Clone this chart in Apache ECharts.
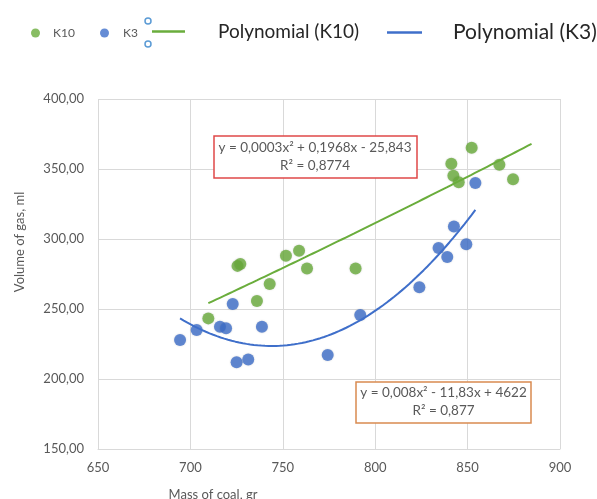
<!DOCTYPE html>
<html>
<head>
<meta charset="utf-8">
<script src="https://cdn.jsdelivr.net/npm/echarts@6/dist/echarts.min.js"></script>
<style>html,body{margin:0;padding:0;background:#fff;}#c{width:597px;height:499px;}</style>
</head>
<body>
<div id="c"></div>
<script>
// ---- data ----
const k10X = [709.7, 725.5, 727.0, 736.0, 742.9, 751.7, 758.8, 763.1, 789.4, 841.2, 842.3, 845.2, 852.2, 867.2, 874.6];
const k10Y = [243.3, 280.8, 282.2, 255.7, 267.9, 288.1, 291.6, 279.0, 279.0, 353.8, 345.2, 340.5, 365.2, 353.1, 342.6];
const k3X = [694.4, 703.4, 716.0, 719.3, 722.9, 725.0, 731.3, 738.7, 774.3, 791.9, 823.9, 834.3, 839.0, 842.6, 849.3, 854.2];
const k3Y = [227.9, 235.0, 237.4, 236.2, 253.6, 211.9, 214.0, 237.4, 217.1, 245.7, 265.5, 293.6, 287.1, 309.0, 296.2, 340.0];
const seriesNames = ['K10', 'K3', 'Polynomial (K10)', 'Polynomial (K3)'];
const eqK10 = ['y = 0,0003x² + 0,1968x - 25,843', 'R² = 0,8774'];
const eqK3 = ['y = 0,008x² - 11,83x + 4622', 'R² = 0,877'];
const xTitle = 'Mass of coal, gr';
const yTitle = 'Volume of gas, ml';
const k10Forward = 10; // trendline forecast forward (periods)

// quadratic least-squares fit (trendline, as in the source spreadsheet)
function polyfit2(xs, ys) {
  const n = xs.length;
  const m = xs.reduce((a, b) => a + b, 0) / n;
  let s = [0,0,0,0,0], t = [0,0,0];
  for (let i = 0; i < n; i++) {
    const u = xs[i] - m;
    let p = 1;
    for (let k = 0; k <= 4; k++) { s[k] += p; if (k <= 2) t[k] += p * ys[i]; p *= u; }
  }
  const A = [[s[0], s[1], s[2], t[0]], [s[1], s[2], s[3], t[1]], [s[2], s[3], s[4], t[2]]];
  for (let i = 0; i < 3; i++) {
    for (let j = i + 1; j < 3; j++) {
      const f = A[j][i] / A[i][i];
      for (let k = i; k < 4; k++) A[j][k] -= f * A[i][k];
    }
  }
  const c = [0,0,0];
  for (let i = 2; i >= 0; i--) {
    let v = A[i][3];
    for (let k = i + 1; k < 3; k++) v -= A[i][k] * c[k];
    c[i] = v / A[i][i];
  }
  return x => c[0] + c[1] * (x - m) + c[2] * (x - m) * (x - m);
}
function trend(xs, ys, forward) {
  const f = polyfit2(xs, ys);
  const lo = Math.min(...xs), hi = Math.max(...xs) + (forward || 0);
  const out = [];
  const N = 80;
  for (let i = 0; i <= N; i++) { const x = lo + (hi - lo) * i / N; out.push([x, f(x)]); }
  return out;
}

const GREEN = '#6aad3c', BLUE = '#3f6fca';
const FONT = 'Lato, "Open Sans", sans-serif';
const chart = echarts.init(document.getElementById('c'));
const fmtY = v => v.toFixed(2).replace('.', ',');

function legendItem(name, left, top, icon, w, h, color, fontSize, padL, textColor) {
  return {
    left: left, top: top, orient: 'horizontal', selectedMode: false,
    icon: icon, itemWidth: w, itemHeight: h,
    data: [{ name: name, itemStyle: { color: color } }],
    textStyle: { fontFamily: FONT, fontSize: fontSize, color: textColor, padding: [0, 0, 0, padL] }
  };
}

chart.setOption({
  animation: false,
  backgroundColor: '#ffffff',
  textStyle: { fontFamily: FONT },
  legend: [
    legendItem(seriesNames[0], 26, 22, 'circle', 9, 9, GREEN, 12, 8, '#595959'),
    legendItem(seriesNames[1], 95, 22, 'circle', 9, 9, BLUE, 12, 9, '#595959'),
    legendItem(seriesNames[2], 147, 17, 'rect', 33, 2.5, GREEN, 19, 28, '#262626'),
    legendItem(seriesNames[3], 382, 17, 'rect', 35, 2.5, BLUE, 21, 26, '#262626')
  ],
  grid: { left: 98, right: 37, top: 99, bottom: 50, containLabel: false },
  xAxis: {
    type: 'value', min: 650, max: 900, interval: 50,
    axisLine: { show: true, lineStyle: { color: '#d9d9d9' } },
    axisTick: { show: false },
    splitLine: { show: true, lineStyle: { color: '#d9d9d9' } },
    axisLabel: { color: '#595959', fontSize: 13, margin: 12, fontFamily: FONT }
  },
  yAxis: {
    type: 'value', min: 150, max: 400, interval: 50,
    axisLine: { show: false },
    axisTick: { show: false },
    splitLine: { show: true, lineStyle: { color: '#d9d9d9' } },
    axisLabel: { color: '#595959', fontSize: 13, margin: 14, fontFamily: FONT, formatter: fmtY }
  },
  series: [
    { name: seriesNames[0], type: 'scatter', symbolSize: 12, z: 3,
      itemStyle: { color: GREEN, shadowBlur: 2, shadowColor: 'rgba(0,0,0,0.2)' },
      data: k10X.map((x, i) => [x, k10Y[i]]) },
    { name: seriesNames[1], type: 'scatter', symbolSize: 12, z: 3,
      itemStyle: { color: BLUE, shadowBlur: 2, shadowColor: 'rgba(0,0,0,0.2)' },
      data: k3X.map((x, i) => [x, k3Y[i]]) },
    { name: seriesNames[2], type: 'line', showSymbol: false, symbol: 'none', z: 4, color: GREEN,
      lineStyle: { color: GREEN, width: 2 }, data: trend(k10X, k10Y, k10Forward) },
    { name: seriesNames[3], type: 'line', showSymbol: false, symbol: 'none', z: 4, color: BLUE,
      lineStyle: { color: BLUE, width: 2 }, data: trend(k3X, k3Y, 0) }
  ],
  graphic: [
    { type: 'circle', shape: { cx: 148, cy: 21, r: 3 }, style: { fill: '#fff', stroke: '#5b9bd5', lineWidth: 1.5 } },
    { type: 'circle', shape: { cx: 148, cy: 44, r: 3 }, style: { fill: '#fff', stroke: '#5b9bd5', lineWidth: 1.5 } },
    { type: 'rect', z: 10, shape: { x: 214, y: 136, width: 203, height: 42 }, style: { fill: '#fff', stroke: '#e04848', lineWidth: 1.5 } },
    { type: 'text', z: 11, x: 315, y: 148, style: { text: eqK10[0], fill: '#595959', font: '13.5px ' + FONT, align: 'center', verticalAlign: 'middle' } },
    { type: 'text', z: 11, x: 315, y: 166, style: { text: eqK10[1], fill: '#595959', font: '13.5px ' + FONT, align: 'center', verticalAlign: 'middle' } },
    { type: 'rect', z: 10, shape: { x: 356, y: 382, width: 175, height: 41 }, style: { fill: '#fff', stroke: '#d98a50', lineWidth: 1.5 } },
    { type: 'text', z: 11, x: 443.5, y: 393, style: { text: eqK3[0], fill: '#595959', font: '13.5px ' + FONT, align: 'center', verticalAlign: 'middle' } },
    { type: 'text', z: 11, x: 443.5, y: 411, style: { text: eqK3[1], fill: '#595959', font: '13.5px ' + FONT, align: 'center', verticalAlign: 'middle' } },
    { type: 'text', x: 213, y: 488, style: { text: xTitle, fill: '#595959', font: '13px ' + FONT, align: 'center', verticalAlign: 'top' } },
    { type: 'text', x: 20, y: 242, rotation: Math.PI / 2, style: { text: yTitle, fill: '#595959', font: '13px ' + FONT, align: 'center', verticalAlign: 'middle' } }
  ]
});
</script>
</body>
</html>
